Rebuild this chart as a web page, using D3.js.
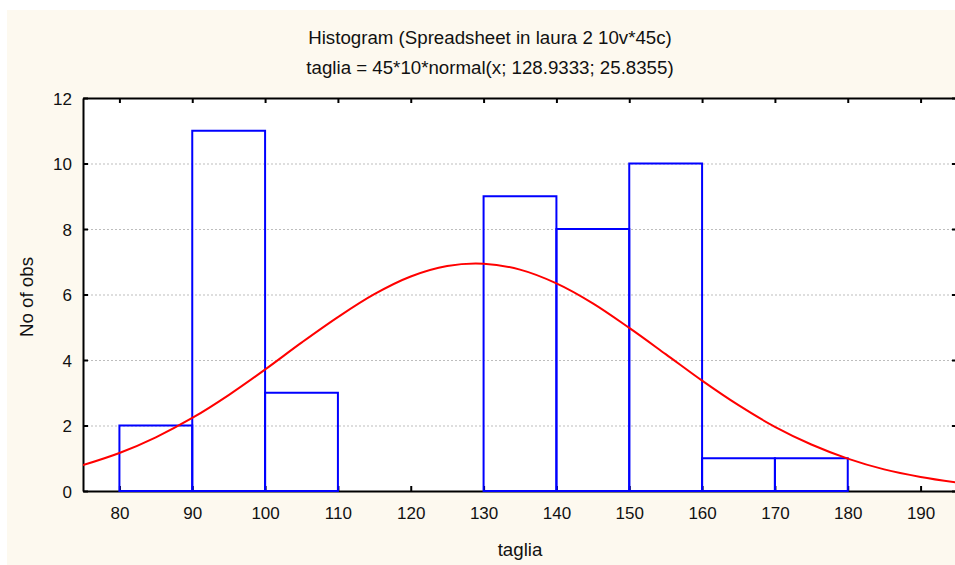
<!DOCTYPE html>
<html>
<head>
<meta charset="utf-8">
<script src="https://cdn.jsdelivr.net/npm/d3@7"></script>
<style>
  body { margin: 0; background: #ffffff; }
  text { font-family: "Liberation Sans", Arial, sans-serif; fill: #111; }
</style>
</head>
<body>
<script>
var width = 955, height = 565;

// histogram bins (lower edge, upper edge) and counts
var binStart = [80, 90, 100, 110, 120, 130, 140, 150, 160, 170];
var binEnd   = [90, 100, 110, 120, 130, 140, 150, 160, 170, 180];
var counts   = [2, 11, 3, 0, 0, 9, 8, 10, 1, 1];

// fitted normal curve, every 5 units
var curveX = [75, 80, 85, 90, 95, 100, 105, 110, 115, 120, 125, 130, 135,
              140, 145, 150, 155, 160, 165, 170, 175, 180, 185, 190, 195];
var curveY = [0.79, 1.16, 1.64, 2.23, 2.93, 3.71, 4.53, 5.31, 6.01, 6.55, 6.87, 6.94, 6.76,
              6.34, 5.73, 4.98, 4.18, 3.37, 2.62, 1.96, 1.42, 0.99, 0.66, 0.43, 0.26];

var xTicks = [80, 90, 100, 110, 120, 130, 140, 150, 160, 170, 180, 190];
var yTicks = [0, 2, 4, 6, 8, 10, 12];

var title1 = "Histogram (Spreadsheet in laura 2 10v*45c)";
var title2 = "taglia = 45*10*normal(x; 128.9333; 25.8355)";

var plotLeft = 83, plotRight = 957, plotTop = 98, plotBottom = 491;

var x = d3.scaleLinear().domain([75, 195]).range([plotLeft, plotRight]);
var y = d3.scaleLinear().domain([0, 12]).range([plotBottom, plotTop]);

var svg = d3.select("body").append("svg")
    .attr("width", width)
    .attr("height", height)
    .style("display", "block");

svg.append("rect")
    .attr("x", 7).attr("y", 10)
    .attr("width", width - 7).attr("height", height - 10)
    .style("fill", "#fdf9ef");

svg.append("rect")
    .attr("x", plotLeft).attr("y", plotTop)
    .attr("width", plotRight - plotLeft).attr("height", plotBottom - plotTop)
    .style("fill", "#ffffff");

svg.append("defs").append("clipPath").attr("id", "plotclip")
  .append("rect")
    .attr("x", plotLeft).attr("y", plotTop)
    .attr("width", plotRight - plotLeft).attr("height", plotBottom - plotTop);

// dotted grid lines
svg.append("g")
  .selectAll("line")
  .data(yTicks.filter(function(d){ return d > 0 && d < 12; }))
  .enter().append("line")
    .attr("x1", plotLeft).attr("x2", plotRight)
    .attr("y1", function(d){ return y(d) + 0.5; })
    .attr("y2", function(d){ return y(d) + 0.5; })
    .style("stroke", "#bdbdbd")
    .style("stroke-width", 1)
    .style("stroke-dasharray", "2,2");

// axes with inward ticks
var gx = svg.append("g").attr("transform", "translate(0," + plotBottom + ")")
    .call(d3.axisBottom(x).tickValues(xTicks).tickSizeInner(-5).tickSizeOuter(0).tickPadding(16));
var gxTop = svg.append("g").attr("transform", "translate(0," + plotTop + ")")
    .call(d3.axisTop(x).tickValues(xTicks).tickSizeInner(-5).tickSizeOuter(0).tickFormat(""));
var gy = svg.append("g").attr("transform", "translate(" + plotLeft + ",0)")
    .call(d3.axisLeft(y).tickValues(yTicks).tickSizeInner(-5).tickSizeOuter(0).tickPadding(11));
var gyRight = svg.append("g").attr("transform", "translate(" + plotRight + ",0)")
    .call(d3.axisRight(y).tickValues(yTicks).tickSizeInner(-5).tickSizeOuter(0).tickFormat(""));

[gx, gxTop, gy, gyRight].forEach(function(g){
  g.select(".domain").style("stroke", "#000").style("stroke-width", 2);
  g.selectAll(".tick line").style("stroke", "#000").style("stroke-width", 2);
  g.selectAll("text")
    .style("font-family", "'Liberation Sans', Arial, sans-serif")
    .style("font-size", "17px")
    .style("fill", "#111");
});
gy.selectAll(".tick text").attr("dy", "0.36em");

// histogram bars
var bins = counts.map(function(c, i){ return { x0: binStart[i], x1: binEnd[i], n: c }; })
    .filter(function(d){ return d.n > 0; });

svg.append("g")
  .selectAll("rect")
  .data(bins)
  .enter().append("rect")
    .attr("x", function(d){ return x(d.x0); })
    .attr("y", function(d){ return y(d.n); })
    .attr("width", function(d){ return x(d.x1) - x(d.x0); })
    .attr("height", function(d){ return y(0) - y(d.n); })
    .style("fill", "none")
    .style("stroke", "#0000ff")
    .style("stroke-width", 2);

// normal curve
var line = d3.line()
    .x(function(d, i){ return x(curveX[i]); })
    .y(function(d){ return y(d); })
    .curve(d3.curveCatmullRom);

svg.append("path")
    .datum(curveY)
    .attr("clip-path", "url(#plotclip)")
    .attr("d", line)
    .style("fill", "none")
    .style("stroke", "#ff0000")
    .style("stroke-width", 2);

// titles
svg.append("text")
    .attr("x", 490).attr("y", 44)
    .attr("text-anchor", "middle")
    .style("font-size", "18.7px")
    .text(title1);

svg.append("text")
    .attr("x", 490).attr("y", 74)
    .attr("text-anchor", "middle")
    .style("font-size", "18.7px")
    .text(title2);

svg.append("text")
    .attr("x", 520).attr("y", 556)
    .attr("text-anchor", "middle")
    .style("font-size", "18.7px")
    .text("taglia");

svg.append("text")
    .attr("transform", "translate(33,297) rotate(-90)")
    .attr("text-anchor", "middle")
    .style("font-size", "18.7px")
    .text("No of obs");
</script>
</body>
</html>
